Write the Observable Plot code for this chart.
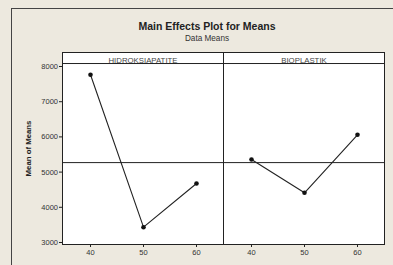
<!DOCTYPE html>
<html>
<head>
<meta charset="utf-8">
<script src="https://cdn.jsdelivr.net/npm/d3@7"></script>
<script src="https://cdn.jsdelivr.net/npm/@observablehq/plot@0.6"></script>
<style>
  html, body { margin: 0; padding: 0; background: #ede9df; }
  #wrap { position: relative; width: 393px; height: 265px; overflow: hidden; background: #ede9df; }
  #border { position: absolute; left: 11px; top: 8px; width: 420px; height: 300px; border-left: 1px solid #444; border-top: 1px solid #444; }
  #title { position: absolute; left: 107px; width: 200px; top: 20px; text-align: center; font: bold 10.5px "Liberation Sans", Arial, sans-serif; color: #222; }
  #subtitle { position: absolute; left: 107px; width: 200px; top: 34px; text-align: center; font: 8.2px "Liberation Sans", Arial, sans-serif; color: #333; }
  #chart { position: absolute; left: 0; top: 0; }
</style>
</head>
<body>
<div id="wrap">
  <div id="border"></div>
  <div id="title">Main Effects Plot for Means</div>
  <div id="subtitle">Data Means</div>
  <div id="chart"></div>
</div>
<script>
const factors = ["HIDROKSIAPATITE", "BIOPLASTIK"];
const levels = [40, 50, 60];
const hidroksiapatiteMeans = [7765, 3435, 4676];
const bioplastikMeans = [5358, 4412, 6060];
const grandMean = 5270;
const yTicks = [3000, 4000, 5000, 6000, 7000, 8000];
const yLabel = "Mean of Means";

const seriesByFactor = [hidroksiapatiteMeans, bioplastikMeans];
const rows = [];
factors.forEach((f, i) => levels.forEach((l, j) => rows.push({factor: f, level: l, mean: seriesByFactor[i][j]})));

const chart = Plot.plot({
  width: 393,
  height: 265,
  marginLeft: 62,
  marginRight: 9,
  marginTop: 52,
  marginBottom: 21,
  style: {background: "transparent", fontFamily: "'Liberation Sans', Arial, sans-serif", fontSize: "7.5px", color: "#333", overflow: "visible"},
  fx: {domain: factors, padding: 0, axis: null},
  x: {type: "point", domain: levels, padding: 0.5},
  y: {domain: [2943, 8398]},
  marks: [
    Plot.frame({fill: "white", stroke: "#222", strokeWidth: 1}),
    Plot.ruleY([8085], {stroke: "#222", strokeWidth: 1}),
    Plot.ruleY([grandMean], {stroke: "#222", strokeWidth: 1}),
    Plot.text(factors, {fx: d => d, text: d => d, frameAnchor: "top", dy: 5, fill: "#444", fontSize: 7.8}),
    Plot.line(rows, {fx: "factor", x: "level", y: "mean", stroke: "#222", strokeWidth: 1.1}),
    Plot.dot(rows, {fx: "factor", x: "level", y: "mean", r: 2.3, fill: "#111", stroke: "none"}),
    Plot.axisX({ticks: levels, tickSize: 3, tickPadding: 2.5, label: null, stroke: "#222"}),
    Plot.axisY({ticks: yTicks, tickSize: 3, tickPadding: 1.5, tickFormat: d => String(d), label: null, stroke: "#222"}),
    Plot.text([factors[0]], {fx: d => d, text: () => yLabel, frameAnchor: "left", textAnchor: "middle", dx: -34, rotate: -90, fontWeight: "bold", fontSize: 7.8, fill: "#222"})
  ]
});
document.getElementById("chart").appendChild(chart);
</script>
</body>
</html>
